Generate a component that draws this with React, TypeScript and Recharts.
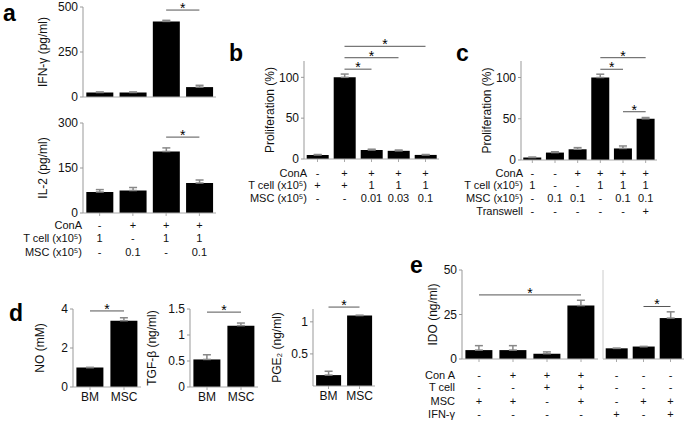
import React from 'react';
import { BarChart, Bar, XAxis, YAxis, ErrorBar, ReferenceLine } from 'recharts';

const FONT = '"Liberation Sans", Arial, Helvetica, sans-serif';

// panel a
const aCats = ['a1', 'a2', 'a3', 'a4'];
const ifnValues = [25, 25, 420, 55];
const ifnErrors = [3, 3, 6, 10];
const il2Values = [70, 75, 205, 100];
const il2Errors = [8, 10, 12, 10];
const aConA = ['-', '+', '+', '+'];
const aTcell = ['1', '-', '1', '1'];
const aMsc = ['-', '0.1', '-', '0.1'];
const aIfnSig = [{ from: 'a3', to: 'a4', y: 483 }];
const aIl2Sig = [{ from: 'a3', to: 'a4', y: 253 }];

// panel b
const bCats = ['b1', 'b2', 'b3', 'b4', 'b5'];
const bValues = [5, 100, 11, 10, 5];
const bErrors = [0.5, 4, 1, 1, 0.5];
const bConA = ['-', '+', '+', '+', '+'];
const bTcell = ['+', '+', '1', '1', '1'];
const bMsc = ['-', '-', '0.01', '0.03', '0.1'];
const bSig = [
  { from: 'b2', to: 'b3', y: 110 },
  { from: 'b2', to: 'b4', y: 124 },
  { from: 'b2', to: 'b5', y: 138 },
];

// panel c
const cCats = ['c1', 'c2', 'c3', 'c4', 'c5', 'c6'];
const cValues = [3, 9, 13, 100, 14, 50];
const cErrors = [0.5, 1, 2, 4, 3, 1.5];
const cConA = ['-', '-', '+', '+', '+', '+'];
const cTcell = ['1', '-', '-', '1', '1', '1'];
const cMsc = ['-', '0.1', '0.1', '-', '0.1', '0.1'];
const cTranswell = ['-', '-', '-', '-', '-', '+'];
const cSig = [
  { from: 'c4', to: 'c5', y: 110 },
  { from: 'c4', to: 'c6', y: 124 },
  { from: 'c5', to: 'c6', y: 58.5 },
];

// panel d
const dCats = ['BM', 'MSC'];
const noValues = [1, 3.4];
const noErrors = [0, 0.15];
const tgfValues = [0.53, 1.18];
const tgfErrors = [0.09, 0.05];
const pgeValues = [0.17, 1.1];
const pgeErrors = [0.06, 0];
const noSig = [{ from: 'BM', to: 'MSC', y: 3.9 }];
const tgfSig = [{ from: 'BM', to: 'MSC', y: 1.44 }];
const pgeSig = [{ from: 'BM', to: 'MSC', y: 1.23 }];

// panel e
const e1Cats = ['e1', 'e2', 'e3', 'e4'];
const e1Values = [5, 5, 3, 30];
const e1Errors = [2.5, 2.5, 1, 3];
const e2Cats = ['f1', 'f2', 'f3'];
const e2Values = [6, 7, 23];
const e2Errors = [0, 0, 3.5];
const eConA = ['-', '+', '+', '+', '-', '-', '-'];
const eTcell = ['-', '-', '+', '+', '-', '-', '-'];
const eMsc = ['+', '+', '-', '+', '-', '+', '+'];
const eIfn = ['-', '-', '-', '-', '+', '-', '+'];
const e1Sig = [{ from: 'e1', to: 'e4', y: 36 }];
const e2Sig = [{ from: 'f2', to: 'f3', y: 29.5 }];

// error bars only go up (the lower half sits inside the black bar anyway)
const toRows = (cats: string[], vals: number[], errs: number[]) =>
  cats.map((cat, i) => ({ cat, v: vals[i], e: [0, errs[i]] }));

// draws the +/- table under the bars, one text line per row
const tableTick = (rows: string[][], offsets: number[]) => (props: any) => {
  const { x, y, payload, index } = props;
  const i = payload?.index ?? index;
  return (
    <g>
      {rows.map((r, k) => (
        <text key={k} x={x} y={y - 5 + offsets[k]} textAnchor="middle" dominantBaseline="central" fontSize={11} fill="#111">
          {r[i]}
        </text>
      ))}
    </g>
  );
};

type Sig = { from: string; to: string; y: number };

function BarPanel(props: any) {
  const {
    left, top, width, plotTop, plotHeight, xHeight, yWidth, data, domain, ticks,
    yLabel, labelOffset = 20, sigs = [], tick = false, gap = '10%', hideYTicks = false,
  } = props;
  const height = plotTop + plotHeight + xHeight;
  return (
    <div style={{ position: 'absolute', left, top }}>
      <BarChart
        width={width}
        height={height}
        data={data}
        margin={{ top: plotTop, right: 0, bottom: 0, left: 0 }}
        barCategoryGap={gap}
      >
        <XAxis dataKey="cat" height={xHeight} tick={tick} tickSize={3} tickMargin={2} stroke="#aaa" interval={0} />
        <YAxis
          width={yWidth}
          domain={domain}
          ticks={ticks}
          interval={0}
          tickSize={3}
          tickMargin={2}
          stroke={hideYTicks ? '#ccc' : '#999'}
          tick={hideYTicks ? false : { fill: '#111', fontSize: 12 }}
          allowDataOverflow
          label={
            yLabel
              ? { value: yLabel, angle: -90, position: 'insideLeft', offset: labelOffset, style: { textAnchor: 'middle', fontSize: 12, fill: '#111' } }
              : undefined
          }
        />
        <Bar dataKey="v" fill="#000" isAnimationActive={false}>
          <ErrorBar dataKey="e" width={4} stroke="#888" direction="y" />
        </Bar>
        {sigs.map((s: Sig, i: number) => (
          <ReferenceLine
            key={i}
            ifOverflow="visible"
            stroke="#555"
            segment={[{ x: s.from, y: s.y }, { x: s.to, y: s.y }]}
            label={{ value: '*', position: 'top', offset: -3, fontSize: 14, fill: '#000' }}
          />
        ))}
      </BarChart>
    </div>
  );
}

function RowHeads({ right, rows, ys }: { right: number; rows: React.ReactNode[]; ys: number[] }) {
  return (
    <>
      {rows.map((t, i) => (
        <div
          key={i}
          style={{ position: 'absolute', left: right - 120, width: 120, top: ys[i] - 7, textAlign: 'right', fontSize: 11, lineHeight: '14px', color: '#111', whiteSpace: 'nowrap' }}
        >
          {t}
        </div>
      ))}
    </>
  );
}

const Letter = ({ x, y, t }: { x: number; y: number; t: string }) => (
  <div style={{ position: 'absolute', left: x, top: y, fontSize: 23, fontWeight: 'bold', lineHeight: '22px' }}>{t}</div>
);

export default function App() {
  return (
    <div style={{ position: 'absolute', left: 0, top: 0, width: 685, height: 422, background: '#fff', fontFamily: FONT, overflow: 'hidden' }}>
      <Letter x={3} y={2} t="a" />
      <Letter x={229} y={42} t="b" />
      <Letter x={456} y={42} t="c" />
      <Letter x={9} y={302} t="d" />
      <Letter x={410} y={254} t="e" />

      {/* a */}
      <BarPanel left={20} top={0} width={196} plotTop={7} plotHeight={90} xHeight={8} yWidth={63}
        data={toRows(aCats, ifnValues, ifnErrors)} domain={[0, 500]} ticks={[0, 250, 500]}
        yLabel="IFN-γ (pg/ml)" labelOffset={23} sigs={aIfnSig} />
      <BarPanel left={20} top={116} width={196} plotTop={7} plotHeight={90} xHeight={50} yWidth={63}
        data={toRows(aCats, il2Values, il2Errors)} domain={[0, 300]} ticks={[0, 150, 300]}
        yLabel="IL-2 (pg/ml)" labelOffset={23} sigs={aIl2Sig}
        tick={tableTick([aConA, aTcell, aMsc], [12, 25, 39])} />
      <RowHeads right={82} ys={[225, 238, 252]} rows={['ConA', 'T cell (x10⁵)', 'MSC (x10⁵)']} />

      {/* b */}
      <BarPanel left={250} top={30} width={189} plotTop={31} plotHeight={98} xHeight={45} yWidth={54}
        data={toRows(bCats, bValues, bErrors)} domain={[0, 120]} ticks={[0, 50, 100]}
        yLabel="Proliferation (%)" labelOffset={20} sigs={bSig}
        tick={tableTick([bConA, bTcell, bMsc], [14, 26, 39])} />
      <RowHeads right={307} ys={[173, 185, 198]} rows={['ConA', 'T cell (x10⁵)', 'MSC (x10⁵)']} />

      {/* c */}
      <BarPanel left={465} top={30} width={192} plotTop={31} plotHeight={99} xHeight={58} yWidth={56}
        data={toRows(cCats, cValues, cErrors)} domain={[0, 120]} ticks={[0, 50, 100]}
        yLabel="Proliferation (%)" labelOffset={22} sigs={cSig}
        tick={tableTick([cConA, cTcell, cMsc, cTranswell], [13, 25, 38, 51])} />
      <RowHeads right={523} ys={[173, 185, 198, 211]} rows={['ConA', 'T cell (x10⁵)', 'MSC (x10⁵)', 'Transwell']} />

      {/* d */}
      <BarPanel left={20} top={295} width={121} plotTop={14} plotHeight={78} xHeight={22} yWidth={53}
        data={toRows(dCats, noValues, noErrors)} domain={[0, 4]} ticks={[0, 2, 4]}
        yLabel="NO (mM)" labelOffset={20} sigs={noSig} tick={{ fill: '#111', fontSize: 12 }} />
      <BarPanel left={140} top={295} width={118} plotTop={14} plotHeight={78} xHeight={22} yWidth={50}
        data={toRows(dCats, tgfValues, tgfErrors)} domain={[0, 1.5]} ticks={[0, 0.5, 1, 1.5]}
        yLabel="TGF-β (ng/ml)" labelOffset={12} sigs={tgfSig} tick={{ fill: '#111', fontSize: 12 }} />
      <BarPanel left={262} top={295} width={113} plotTop={14} plotHeight={77} xHeight={23} yWidth={51}
        data={toRows(dCats, pgeValues, pgeErrors)} domain={[0, 1.2]} ticks={[0.5, 1]}
        yLabel="PGE₂ (ng/ml)" labelOffset={15} sigs={pgeSig} tick={{ fill: '#111', fontSize: 12 }} />

      {/* e */}
      <BarPanel left={410} top={255} width={188} plotTop={15} plotHeight={89} xHeight={62} yWidth={52}
        data={toRows(e1Cats, e1Values, e1Errors)} domain={[0, 50]} ticks={[0, 25, 50]}
        yLabel="IDO (ng/ml)" labelOffset={23} sigs={e1Sig}
        tick={tableTick([eConA.slice(0, 4), eTcell.slice(0, 4), eMsc.slice(0, 4), eIfn.slice(0, 4)], [16, 28, 42, 55])} />
      <BarPanel left={598} top={255} width={86} plotTop={15} plotHeight={89} xHeight={62} yWidth={5}
        data={toRows(e2Cats, e2Values, e2Errors)} domain={[0, 50]} ticks={[0, 25, 50]} hideYTicks sigs={e2Sig}
        tick={tableTick([eConA.slice(4), eTcell.slice(4), eMsc.slice(4), eIfn.slice(4)], [16, 28, 42, 55])} />
      <RowHeads right={455} ys={[375, 387, 401, 414]} rows={['Con A', 'T cell', 'MSC', 'IFN-γ']} />
    </div>
  );
}
